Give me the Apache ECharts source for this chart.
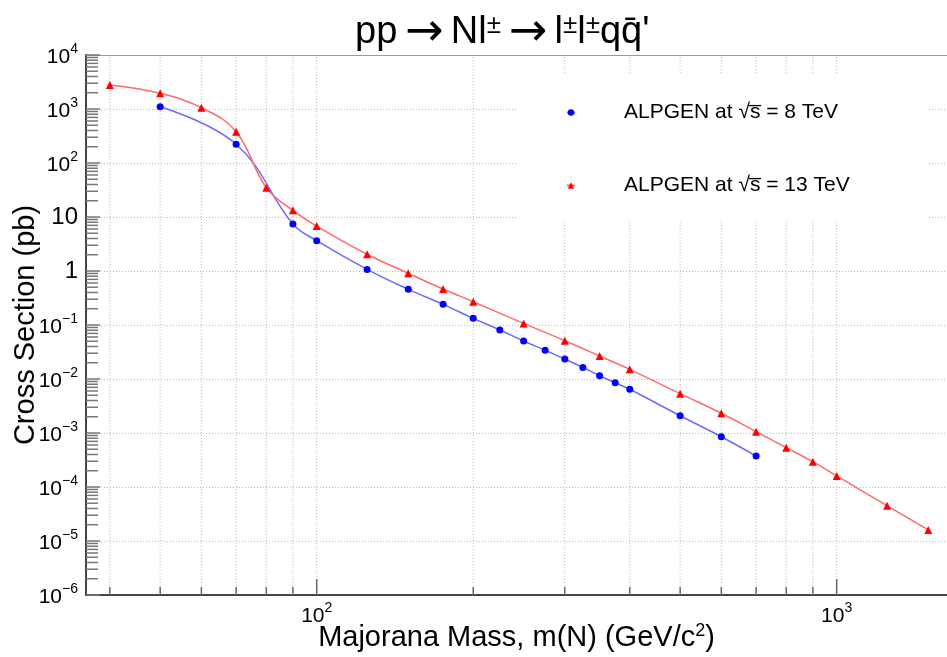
<!DOCTYPE html>
<html>
<head>
<meta charset="utf-8">
<script src="https://cdn.jsdelivr.net/npm/echarts@6/dist/echarts.min.js"></script>
<style>
  html, body { margin: 0; padding: 0; background: #fff; }
  #chart { width: 947px; height: 657px; }
</style>
</head>
<body>
<div id="chart"></div>
<script>
// --- dados ---
const mass8 = [50, 70, 90, 100, 125, 150, 175, 200, 225, 250, 275, 300, 325, 350, 375, 400, 500, 600, 700];
const xsec8 = [1104, 222, 7.4, 3.64, 1.07, 0.458, 0.241, 0.133, 0.0808, 0.0506, 0.034, 0.0234, 0.0164, 0.0115, 0.00855, 0.00646, 0.00209, 0.000853, 0.000375];

const mass13 = [40, 50, 60, 70, 80, 90, 100, 125, 150, 175, 200, 250, 300, 350, 400, 500, 600, 700, 800, 900, 1000, 1250, 1500];
const xsec13 = [2780, 1950, 1057, 380, 34.9, 13.3, 6.8, 2.04, 0.906, 0.464, 0.27, 0.107, 0.0512, 0.0267, 0.0151, 0.00535, 0.00232, 0.00106, 0.000535, 0.000294, 0.00016, 4.5e-5, 1.6e-5];

const seriesNames = ['ALPGEN 8 TeV', 'ALPGEN 13 TeV'];
const legendLabels = ['ALPGEN at \u221As\u0305 = 8 TeV', 'ALPGEN at \u221As\u0305 = 13 TeV'];

// grade vertical e ticks do eixo x
const xGridVals = [40, 50, 60, 70, 80, 90, 100, 200, 300, 400, 500, 600, 700, 800, 900, 1000];
const xMajor = [100, 1000];
// decadas do eixo y
const yDecades = [1e-6, 1e-5, 1e-4, 1e-3, 1e-2, 1e-1, 1, 10, 1e2, 1e3, 1e4];

const X_MIN = 36, X_MAX = 1630, Y_MIN = 1e-6, Y_MAX = 1e4;
const FONT = 'Liberation Sans, Arial, Helvetica, sans-serif';

// ticks menores (2..9 x 10^k)
const yMinorVals = [];
for (let k = 0; k < yDecades.length - 1; k++) {
    for (let m = 2; m <= 9; m++) yMinorVals.push(yDecades[k] * m);
}

const chart = echarts.init(document.getElementById('chart'), null, { renderer: 'canvas' });

function potencia(v) {
    const e = Math.round(Math.log10(v));
    if (e === 0) return '{n|1}';
    if (e === 1) return '{n|10}';
    return '{b|10}{s|' + String(e).replace('-', '\u2212') + '}';
}

const labelRich = {
    n: { fontSize: 24, fontFamily: FONT, color: '#000' },
    b: { fontSize: 21, fontFamily: FONT, color: '#000', lineHeight: 26, verticalAlign: 'bottom' },
    s: { fontSize: 14, fontFamily: FONT, color: '#000', lineHeight: 26, verticalAlign: 'top' }
};

function linha(api, p0, p1, style) {
    return { type: 'line', shape: { x1: p0[0], y1: p0[1], x2: p1[0], y2: p1[1] }, style: style };
}

chart.setOption({
    backgroundColor: '#fff',
    animation: false,
    title: {
        text: "pp{a|\u2192}Nl{s|\u00B1}{a|\u2192}l{s|\u00B1}l{s|\u00B1}qq\u0304'",
        left: 350,
        top: 8,
        textStyle: {
            fontFamily: FONT, fontSize: 38, fontWeight: 'normal', color: '#000',
            rich: {
                s: { fontFamily: FONT, fontSize: 26, verticalAlign: 'top', lineHeight: 40 },
                a: { fontFamily: 'DejaVu Sans', fontSize: 46, padding: [0, 7, 0, 8], lineHeight: 40 }
            }
        }
    },
    grid: { left: 86, right: 0, top: 55, bottom: 62, containLabel: false, outerBoundsMode: 'none' },
    legend: {
        data: seriesNames,
        orient: 'vertical',
        left: 518,
        top: 75,
        padding: [27, 79, 24, 48],
        itemGap: 52,
        itemWidth: 8,
        itemHeight: 8,
        backgroundColor: '#fff',
        formatter: (name) => legendLabels[seriesNames.indexOf(name)],
        textStyle: { fontFamily: FONT, fontSize: 21, color: '#000', padding: [0, 0, 0, 44] }
    },
    xAxis: [{
        type: 'log',
        min: X_MIN,
        max: X_MAX,
        name: 'Majorana Mass, m(N) (GeV/c{s|2})',
        nameLocation: 'middle',
        nameGap: 27,
        nameMoveOverlap: false,
        nameTextStyle: {
            fontFamily: FONT, fontSize: 29, color: '#000',
            rich: { s: { fontFamily: FONT, fontSize: 18, verticalAlign: 'top', lineHeight: 32 } }
        },
        axisLine: { show: true, lineStyle: { color: '#444', width: 2 } },
        axisTick: { show: false },
        splitLine: { show: false },
        axisLabel: {
            margin: 6,
            formatter: (v) => {
                const l = Math.log10(v);
                return Math.abs(l - Math.round(l)) < 1e-6 ? potencia(v) : '';
            },
            rich: labelRich
        }
    }, {
        type: 'log',
        min: X_MIN,
        max: X_MAX,
        position: 'top',
        axisLine: { show: true, lineStyle: { color: '#999', width: 1 } },
        axisTick: { show: false },
        axisLabel: { show: false },
        splitLine: { show: false }
    }],
    yAxis: {
        type: 'log',
        min: Y_MIN,
        max: Y_MAX,
        interval: 1,
        name: 'Cross Section (pb)',
        nameLocation: 'middle',
        nameGap: 46,
        nameMoveOverlap: false,
        nameTextStyle: { fontFamily: FONT, fontSize: 29, color: '#000' },
        axisLine: { show: true, lineStyle: { color: '#444', width: 2 } },
        axisTick: { show: false },
        splitLine: { show: true, lineStyle: { color: '#bbb', type: [1, 2], width: 1 } },
        axisLabel: { margin: 8, formatter: potencia, rich: labelRich }
    },
    series: [
        {
            // grade vertical pontilhada
            type: 'custom',
            silent: true,
            z: 1,
            data: xGridVals.map(v => [v, Y_MIN]),
            renderItem: (params, api) => {
                const v = api.value(0);
                return linha(api, api.coord([v, Y_MIN]), api.coord([v, Y_MAX]),
                    { stroke: '#bbb', lineWidth: 1, lineDash: [1, 2] });
            }
        },
        {
            // ticks do eixo x
            type: 'custom',
            silent: true,
            z: 3,
            data: xGridVals.map(v => [v, Y_MIN]),
            renderItem: (params, api) => {
                const v = api.value(0);
                const p = api.coord([v, Y_MIN]);
                const len = xMajor.indexOf(v) >= 0 ? 16 : 8;
                return linha(api, p, [p[0], p[1] - len], { stroke: '#666', lineWidth: 1.5 });
            }
        },
        {
            // ticks do eixo y
            type: 'custom',
            silent: true,
            z: 3,
            data: yMinorVals.map(v => [X_MIN, v, 0]).concat(yDecades.map(v => [X_MIN, v, 1])),
            renderItem: (params, api) => {
                const p = api.coord([X_MIN, api.value(1)]);
                const len = api.value(2) ? 14 : 12;
                return linha(api, p, [p[0] + len, p[1]], { stroke: '#777', lineWidth: 1.5 });
            }
        },
        {
            name: seriesNames[0],
            type: 'line',
            z: 5,
            smooth: 0.4,
            data: mass8.map((m, i) => [m, xsec8[i]]),
            symbol: 'circle',
            symbolSize: 7,
            lineStyle: { color: '#6a6aff', width: 1.5 },
            itemStyle: { color: '#0000ff' }
        },
        {
            name: seriesNames[1],
            type: 'line',
            z: 6,
            smooth: 0.4,
            data: mass13.map((m, i) => [m, xsec13[i]]),
            symbol: 'triangle',
            symbolSize: 8,
            lineStyle: { color: '#ff6a6a', width: 1.5 },
            itemStyle: { color: '#ff0000' }
        }
    ]
});
</script>
</body>
</html>
